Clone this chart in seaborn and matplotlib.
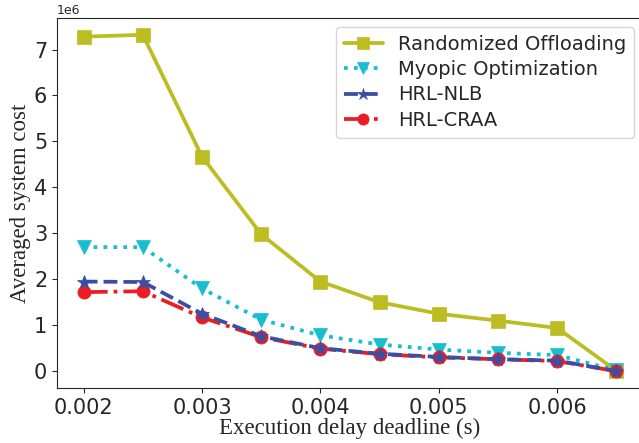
import matplotlib
matplotlib.use("Agg")
import matplotlib.pyplot as plt
from matplotlib.ticker import MultipleLocator
import seaborn as sns
import pandas as pd

deadlines = [0.002, 0.0025, 0.003, 0.0035, 0.004, 0.0045, 0.005, 0.0055, 0.006, 0.0065]
randomized = [7.28e6, 7.32e6, 4.67e6, 2.98e6, 1.95e6, 1.50e6, 1.25e6, 1.10e6, 0.94e6, 0.01e6]
myopic = [2.70e6, 2.70e6, 1.80e6, 1.12e6, 0.78e6, 0.58e6, 0.47e6, 0.40e6, 0.35e6, 0.02e6]
hrl_nlb = [1.95e6, 1.94e6, 1.25e6, 0.76e6, 0.50e6, 0.38e6, 0.31e6, 0.26e6, 0.23e6, 0.0]
hrl_craa = [1.72e6, 1.74e6, 1.17e6, 0.74e6, 0.49e6, 0.37e6, 0.30e6, 0.26e6, 0.22e6, 0.0]

sns.set_style("ticks")
plt.rcParams['font.family'] = ['DejaVu Sans']

fig = plt.figure(figsize=(6.39, 4.43), dpi=100)
ax = fig.add_axes([57/639, 55/443, (643-57)/639, (388-18)/443])

series = [
    ("Randomized Offloading", randomized, "#bcbd22", "-", "s", 10),
    ("Myopic Optimization", myopic, "#17becf", ":", "v", 9.5),
    ("HRL-CRAA", hrl_craa, "#ec1c24", "-.", "o", 9.5),
    ("HRL-NLB", hrl_nlb, "#3a4fa3", "--", "*", 10.5),
]
for name, vals, col, ls, mk, ms in series:
    df = pd.DataFrame({"x": deadlines, "y": vals})
    sns.lineplot(data=df, x="x", y="y", ax=ax, color=col, linestyle=ls,
                 marker=mk, markersize=ms, linewidth=2.7, label=name,
                 markeredgewidth=0.5, markeredgecolor=col)

handles, labels = ax.get_legend_handles_labels()
order = ["Randomized Offloading", "Myopic Optimization", "HRL-NLB", "HRL-CRAA"]
hmap = dict(zip(labels, handles))
ax.legend([hmap[k] for k in order], order, loc="upper right", fontsize=14,
          frameon=True, labelspacing=0.33, borderaxespad=0.45, markerscale=0.85)

ax.set_xticks([0.002, 0.003, 0.004, 0.005, 0.006])
ax.set_xticklabels(["0.002", "0.003", "0.004", "0.005", "0.006"])
ax.yaxis.set_major_locator(MultipleLocator(1e6))
ax.tick_params(axis="both", labelsize=15)
ax.yaxis.get_offset_text().set_fontsize(9)
ax.set_xlabel("Execution delay deadline (s)", fontsize=16.5, family="Liberation Serif",
              labelpad=0)
ax.set_ylabel("Averaged system cost", fontsize=16.5, family="Liberation Serif",
              labelpad=2)

fig.savefig("out.png", dpi=100)
